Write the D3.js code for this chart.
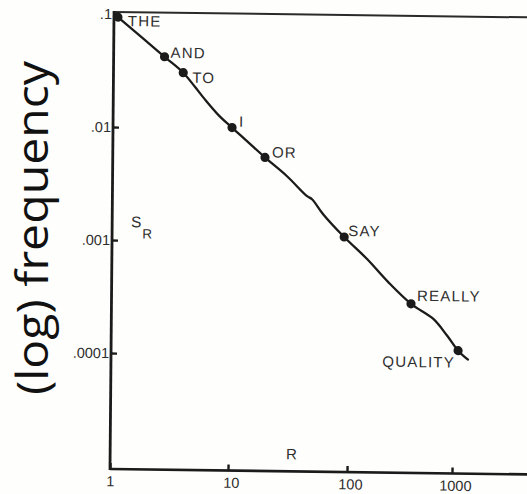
<!DOCTYPE html>
<html>
<head>
<meta charset="utf-8">
<script src="https://cdn.jsdelivr.net/npm/d3@7/dist/d3.min.js"></script>
<style>
  html, body { margin: 0; padding: 0; background: #fefefc; }
  svg { display: block; }
</style>
</head>
<body>
<svg id="chart" width="527" height="494"></svg>
<script>
// Rank / frequency of English words on log-log axes (Zipf's law)
const words  = ["THE", "AND", "TO", "I", "OR", "SAY", "REALLY", "QUALITY"];
const ranks  = [1.08, 2.7, 3.9, 10.2, 19.4, 91, 394, 1116];
const freqs  = [0.094, 0.0424, 0.0308, 0.0102, 0.0056, 0.00113, 0.000295, 0.000115];

// hand-traced curve through the word points
const curveRanks = [1.08, 2.7, 3.9, 4.91, 6.0, 8.05, 10.2, 19.4, 29.8, 44.1, 48.5, 60.3, 91, 149, 237, 394, 641, 873, 1116, 1389];
const curveFreqs = [0.094, 0.0424, 0.0308, 0.0232, 0.0179, 0.0127, 0.0102, 0.0056, 0.00384, 0.00257, 0.00242, 0.00179, 0.00113, 0.000726, 0.000458, 0.000295, 0.000219, 0.000156, 0.000115, 0.000096];

const xTickValues = [1, 10, 100, 1000];
const xTickLabels = ["1", "10", "100", "1000"];
const yTickValues = [0.1, 0.01, 0.001, 0.0001];
const yTickLabels = [".1", ".01", ".001", ".0001"];

// frame of the plot
const frameLeft = 110, frameTop = 12, frameBottom = 469, frameRight = 560;

const svg = d3.select("#chart");
svg.append("rect").attr("width", 527).attr("height", 494).attr("fill", "#fefefc");

// the drawn sheet sits slightly askew
const plot = svg.append("g")
  .attr("transform", "matrix(1, 0.013, -0.0088, 1, 4.13, -1.43)");

// piecewise log scale: the hand-ruled decades are not quite even
const x = d3.scaleLog()
  .domain([1, 10, 100, 1000])
  .range([110, 228, 347, 452]);

const y = d3.scaleLog()
  .domain([0.1, 0.0001])
  .range([14, 353]);

const sans = "'Liberation Sans', Arial, Helvetica, sans-serif";
const ink = "#1b1b1b";
const textInk = "#2e2e2e";

// frame lines
plot.append("line")
  .attr("x1", frameLeft).attr("x2", frameRight).attr("y1", frameTop).attr("y2", frameTop)
  .attr("stroke", "#2a2a2a").attr("stroke-width", 2);
plot.append("line")
  .attr("x1", frameLeft).attr("x2", frameLeft).attr("y1", frameTop - 1).attr("y2", frameBottom + 1)
  .attr("stroke", ink).attr("stroke-width", 2.8);
plot.append("line")
  .attr("x1", frameLeft).attr("x2", frameRight).attr("y1", frameBottom).attr("y2", frameBottom)
  .attr("stroke", ink).attr("stroke-width", 2.6);

// y axis: ticks point inward
const yAxis = d3.axisLeft(y)
  .tickValues(yTickValues)
  .tickFormat((d, i) => yTickLabels[i])
  .tickSizeInner(-6)
  .tickSizeOuter(0)
  .tickPadding(2);

const gy = plot.append("g").attr("transform", `translate(${frameLeft},0)`).call(yAxis);
gy.select(".domain").remove();
gy.selectAll(".tick line").attr("stroke", ink).attr("stroke-width", 2.4);
gy.selectAll(".tick text")
  .attr("font-family", sans).attr("font-size", 14.5).attr("fill", textInk);

// x axis: ticks point inward
const xAxis = d3.axisBottom(x)
  .tickValues(xTickValues)
  .tickFormat((d, i) => xTickLabels[i])
  .tickSizeInner(-6)
  .tickSizeOuter(0)
  .tickPadding(7);

const gx = plot.append("g").attr("transform", `translate(0,${frameBottom})`).call(xAxis);
gx.select(".domain").remove();
gx.selectAll(".tick line").attr("stroke", ink).attr("stroke-width", 2.4);
gx.selectAll(".tick text")
  .attr("font-family", sans).attr("font-size", 14.5).attr("fill", textInk)
  .attr("dx", (d, i) => i === 0 ? 0 : 3);

// curve
const curveData = curveRanks.map((r, i) => [r, curveFreqs[i]]);
const line = d3.line()
  .x(d => x(d[0]))
  .y(d => y(d[1]))
  .curve(d3.curveCatmullRom.alpha(0.5));

plot.append("path")
  .datum(curveData)
  .attr("d", line)
  .attr("fill", "none")
  .attr("stroke", ink)
  .attr("stroke-width", 2.3)
  .attr("stroke-linejoin", "round")
  .attr("stroke-linecap", "round");

// word points
const points = words.map((w, i) => ({ word: w, rank: ranks[i], freq: freqs[i] }));

plot.selectAll("circle.word")
  .data(points)
  .join("circle")
  .attr("class", "word")
  .attr("cx", d => x(d.rank))
  .attr("cy", d => y(d.freq))
  .attr("r", 4.6)
  .attr("fill", ink);

// label placement next to each point
const labelOffset = {
  THE:     { dx: 10, dy: 9,  anchor: "start" },
  AND:     { dx: 6,  dy: 1,  anchor: "start" },
  TO:      { dx: 9,  dy: 10, anchor: "start" },
  I:       { dx: 7,  dy: -1, anchor: "start" },
  OR:      { dx: 7,  dy: 0,  anchor: "start" },
  SAY:     { dx: 4,  dy: -1, anchor: "start" },
  REALLY:  { dx: 6,  dy: -3, anchor: "start" },
  QUALITY: { dx: -3, dy: 17, anchor: "end" }
};

plot.selectAll("text.word")
  .data(points)
  .join("text")
  .attr("class", "word")
  .attr("x", d => x(d.rank) + labelOffset[d.word].dx)
  .attr("y", d => y(d.freq) + labelOffset[d.word].dy)
  .attr("text-anchor", d => labelOffset[d.word].anchor)
  .attr("font-family", sans)
  .attr("font-size", 15)
  .attr("letter-spacing", 1.2)
  .attr("fill", textInk)
  .text(d => d.word);

// axis symbols inside the frame
const sr = plot.append("text")
  .attr("x", 129).attr("y", 227)
  .attr("font-family", sans).attr("font-size", 15.5).attr("fill", textInk);
sr.append("tspan").text("S");
sr.append("tspan").attr("dx", 1).attr("dy", 11).attr("font-size", 13.5).text("R");

plot.append("text")
  .attr("x", 286).attr("y", 457)
  .attr("font-family", sans).attr("font-size", 15).attr("fill", textInk)
  .text("R");

// large rotated axis title
svg.append("text")
  .attr("transform", "translate(48,228) rotate(-90)")
  .attr("text-anchor", "middle")
  .attr("font-family", "'Open Sans', 'Noto Sans', sans-serif")
  .attr("font-size", 44)
  .attr("font-weight", 500)
  .attr("textLength", 334)
  .attr("lengthAdjust", "spacingAndGlyphs")
  .attr("fill", "#111")
  .text("(log) frequency");
</script>
</body>
</html>
